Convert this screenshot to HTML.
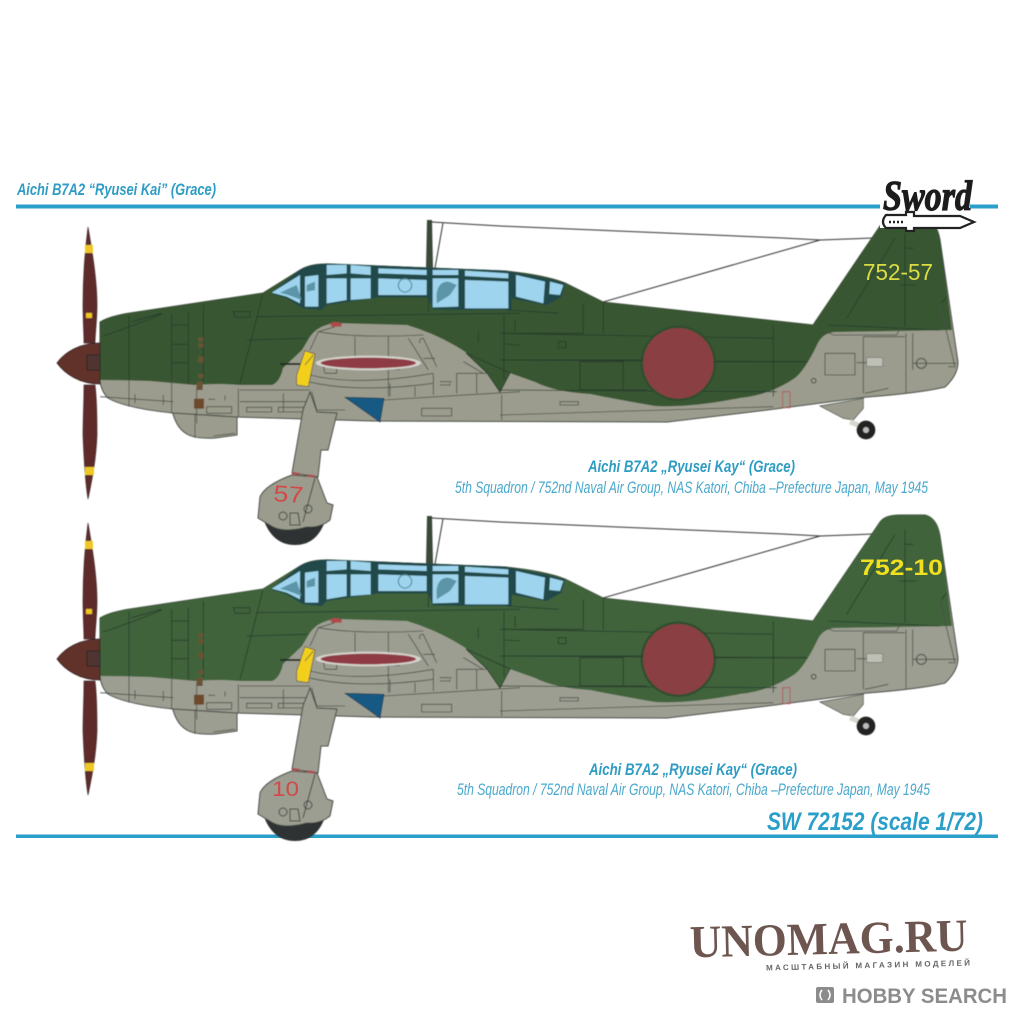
<!DOCTYPE html>
<html><head><meta charset="utf-8"><style>
html,body{margin:0;padding:0;background:#fff}
svg{display:block}
text{font-family:"Liberation Sans",sans-serif}
.t1{font:italic bold 17px "Liberation Sans Narrow","Liberation Sans",sans-serif;fill:#2f9cc4}
.t2{font:italic 17px "Liberation Sans Narrow","Liberation Sans",sans-serif;fill:#4aa8cc}
.l{fill:none;stroke:#263a2c;stroke-width:2.500}
.lg{fill:none;stroke:#4a4f48;stroke-width:2.500}
</style></head><body>
<svg width="1020" height="1020" viewBox="0 0 1020 1020" xmlns="http://www.w3.org/2000/svg">
<defs>
<filter id="b"><feGaussianBlur stdDeviation="0.4"/></filter>
<g id="plane">
 <!-- antenna -->
 <path d="M432 222L500 226L783 238L820 240L873 238M603 302L820 240M443 223L435 268" fill="none" stroke="#333" stroke-width="1"/>
 <path d="M427 220h5l1 48h-7z" fill="#3a4a3a"/>
 <!-- chin -->
 <path d="M172 410Q176 428 187 434Q195 439 215 438L237 435V415Z" fill="var(--y)" stroke="#3d443d" stroke-width="1"/>
 <!-- body -->
 <path d="M100 322Q110 316 130 313L263 293L300 270Q310 264 325 264L505 271Q545 275 565 283L603 302L813 325L880 226Q885 219 900 219L925 219Q937 222 940 240L958 362Q958 375 945 387Q920 393 867 397L767 410L667 422L373 421L237 417L173 413Q125 408 108 398Q100 390 100 378Z" fill="var(--y)" stroke="#3d443d" stroke-width="1"/>
 <!-- green -->
 <path d="M100 322Q110 316 130 313L263 293L300 270Q310 264 325 264L505 271Q545 275 565 283L603 302L813 325L880 226Q885 219 900 219L925 219Q937 222 940 240L952 330L835 332Q822 333 817 345Q805 370 795 378Q770 395 740 398Q690 408 655 406Q620 400 590 394Q555 392 535 382L507 372L467 353Q440 335 407 325L335 323Q315 326 308 340L302 350L283 368Q280 382 272 385L240 385Q220 383 195 385L150 381Q120 380 100 380Z" fill="var(--g)"/>
 <!-- wing root fillet -->
 <path d="M466 353L510 373L500 392L487 373Z" fill="var(--g)" stroke="#2c3f2c" stroke-width="1"/>
 <!-- canopy details in zoom coordinates -->
 <g transform="translate(40,210) scale(.33333)">
  <path d="M692 250L780 180Q800 165 860 160L1400 182L1415 190V300L1275 300L1178 298L1165 262L1015 262L860 285L845 300L790 295L740 265Z" fill="#21494a"/>
  <g fill="#9fd4ee">
   <path d="M695 248L780 195V280L740 260Z"/><path d="M795 200L835 195V290H795Z"/>
   <path d="M860 165H920V190L860 195Z"/><path d="M860 205H920V270L860 280Z"/>
   <path d="M932 165L992 170V195L932 190Z"/><path d="M932 205H992V265L932 270Z"/>
   <path d="M1015 175L1160 180V195L1015 190Z"/><path d="M1015 205L1160 210V255H1015Z"/>
   <path d="M1178 180H1255V195H1178Z"/><path d="M1178 205H1255V290L1178 292Z"/>
   <path d="M1275 182L1405 190V205L1275 198Z"/><path d="M1275 210L1405 215V295H1275Z"/>
  </g>
  <g fill="#5b95a8">
   <path d="M720 248L770 225L785 270L745 255Z"/><path d="M800 225L825 215L825 240L800 245Z"/><path d="M1190 250Q1195 215 1225 215L1250 225L1230 255L1190 280Z"/>
  </g>
  <circle cx="1095" cy="226" r="20" fill="none" stroke="#4a8090" stroke-width="3"/>
  <!-- cowl & fuselage panel lines -->
  <path class="l" d="M267 318V510M190 378Q300 340 365 312M275 335L365 310M395 310V515M445 305V520M490 285V515M395 345H445M395 403H445M395 458H445M580 305H630V322H585ZM668 255L600 520M650 320L1440 310M620 390L800 385M1165 305V262M1392 315V510M1395 402L1440 405M1315 365V398M1425 330V365"/>
  <path class="lg" d="M267 510V590M395 510V610M470 530V640M595 535V622M180 560L400 575M600 540H810M600 575H800M730 550V605M285 552V580M370 555V585M620 592H695V606H620ZM715 592H790V606H715ZM500 590H575V610H500ZM505 568H525M555 556V572M1145 595H1235V618H1145ZM1385 555V630M1030 570L1440 545M465 610V684M520 678L585 670M815 545L830 600H915"/>
  <path class="lg" d="M885 350L835 365L810 420M835 365Q950 385 1150 375M945 380V440M1045 380V560M1105 385L1165 480M1140 400Q1135 385 1150 385L1190 470M1150 445H1185M810 495Q950 530 1180 490M805 515Q950 550 1180 520M850 470H890V490H855ZM1010 478H1080M1050 520V560M1125 530V560M1180 490V555M1200 515H1235M1200 525H1230V520M1250 490V550M1310 490V550M1250 490H1340M1270 455L1330 490"/>
  <path d="M870 340Q885 332 905 340L905 350H875Z" fill="#b04a4a"/>
  <!-- wing hinomaru -->
  <ellipse cx="985" cy="459" rx="158" ry="22" fill="#d4d4cc"/>
  <ellipse cx="985" cy="459" rx="143" ry="16" fill="#8f3a45"/>
  <!-- gun / cowling marks -->
  <path d="M475 382h15v12h-15zM475 400h15v12h-15zM475 440h15v18h-15zM475 492h15v12h-15zM470 515h18v25h-18z" fill="#6a5236"/>
  <path d="M462 566h30v30h-30z" fill="#6d4a2a"/>
  <path d="M720 462H790" stroke="#222e22" stroke-width="6"/>
  <path d="M795 422L825 432L805 530L770 525L770 495Z" fill="#f2cf1e" stroke="#444" stroke-width="2"/>
  <path d="M795 465L820 435" stroke="#444" stroke-width="2"/>
  <path d="M915 562L1032 565L1020 636Z" fill="#155a84" stroke="#173040" stroke-width="2"/>
 </g>
 <!-- main gear -->
 <path d="M263 518Q272 545 295 545Q318 545 326 518Z" fill="#2e3132"/>
 <path d="M292 475L317 477Q322 490 327 503L333 505L330 520Q320 528 307 527Q285 533 273 527L258 518L260 497Q265 485 292 475Z" fill="var(--y)" stroke="#3d443d" stroke-width="1"/>
 <path d="M310 392L317 412L337 413L328 450L321 450L318 477L292 473L303 410Z" fill="var(--y)" stroke="#3d443d" stroke-width="1"/>
 <path d="M292 473L317 477" stroke="#a85050" stroke-width="2.5" stroke-dasharray="8 7"/>
 <path d="M315 478L303 522M290 513l8 0l2 12h-10z" fill="none" stroke="#3d443d" stroke-width="1"/>
 <circle cx="283" cy="516" r="4" fill="none" stroke="#3d443d"/><circle cx="308" cy="509" r="4" fill="none" stroke="#3d443d"/>
 <!-- rear details -->
 <g transform="translate(500,170) scale(.33333)">
  <path d="M30 305L140 325L195 340L185 380L140 405L30 385Z" fill="#21494a"/>
  <path d="M48 315L135 335L130 400L48 380Z" fill="#9fd4ee"/><path d="M150 335L190 345L180 375L148 372Z" fill="#9fd4ee"/>
  <path class="l" d="M20 420L175 430M0 490H250V400M310 395V490M0 490L820 505M0 570L920 575M820 465V680M0 660L830 665M240 575H370V660H240ZM175 515H198V533H175ZM1040 445L1185 205M1215 190V470M1215 235H1240M1200 345H1250M1325 400L1340 380M985 465L1320 480M45 450V480"/>
  <path class="lg" d="M975 550H1065V615H975ZM1070 578H1100M1090 500V670M1218 490V670M1238 490V600M1320 405L1365 590L1345 590M1238 580H1370M970 480L1000 495H1190L1200 475M1090 500H1215M0 735L820 710M180 695H235V705H180ZM1095 670L1165 655"/>
  <rect x="1100" y="563" width="48" height="26" fill="#bfc0b5" stroke="#777" stroke-width="2"/>
  <circle cx="1264" cy="580" r="15" fill="none" stroke="#444" stroke-width="3"/>
  <circle cx="941" cy="632" r="7" fill="none" stroke="#444" stroke-width="3"/>
  <rect x="848" y="665" width="22" height="48" fill="none" stroke="#b05a5a" stroke-width="3"/>
  <!-- hinomaru -->
  <circle cx="535" cy="580" r="113" fill="#2f4d2f"/>
  <circle cx="535" cy="580" r="106" fill="#8a3f42"/>
  <path d="M0 570H430M640 575H920M240 660H440" class="l"/>
  <!-- tail wheel -->
  <path d="M960 708L1090 685L1090 715L1060 750L1030 745Z" fill="var(--y)" stroke="#3d443d" stroke-width="2"/>
  <path d="M1050 755L1085 770" stroke="#d8d8d0" stroke-width="16"/>
  <circle cx="1098" cy="780" r="28" fill="#222"/><circle cx="1098" cy="780" r="9" fill="#bbb"/>
 </g>
 <!-- propeller -->
 <path d="M88 227C92 250 97 280 97 305C97 320 95 335 95 343H84C84 335 83 320 83 305C83 280 85 250 88 227Z" fill="#5e2a2c" stroke="#3a2a2a" stroke-width=".7"/>
 <path d="M84 385H95C97 400 97 420 97 435C96 460 92 480 88 499C85 480 84 460 83 435C83 420 84 400 84 385Z" fill="#5e2a2c" stroke="#3a2a2a" stroke-width=".7"/>
 <rect x="85" y="245" width="8" height="8" fill="#eec626"/><rect x="86" y="313" width="6" height="5" fill="#eec626"/><rect x="85" y="467" width="9" height="8" fill="#eec626"/>
 <path d="M100 343V384C80 384 65 374 57 363C65 352 80 343 100 343Z" fill="#60302c" stroke="#2e2222" stroke-width=".8"/>
 <rect x="87" y="355" width="13" height="15" fill="#4f3433" stroke="#222" stroke-width=".8"/>
</g>
</defs>

<rect width="1020" height="1020" fill="#fff"/>
<rect x="16" y="204.500" width="982" height="4" fill="#2a9fc9"/>
<rect x="16" y="834.500" width="982" height="3.500" fill="#2a9fc9"/>
<text x="17" y="195" class="t1" textLength="199" lengthAdjust="spacingAndGlyphs">Aichi B7A2 “Ryusei Kai” (Grace)</text>

<g filter="url(#b)">
 <use href="#plane" style="--g:#375733;--y:#9b9c8d"/>
 <g transform="translate(0,296)"><use href="#plane" style="--g:#3f643a;--y:#9d9e92"/></g>
</g>

<text x="863" y="280" font-size="23" fill="#dcdc44" textLength="70" lengthAdjust="spacingAndGlyphs">752-57</text>
<text x="273" y="502" font-size="23" fill="#d14a4a" textLength="30" lengthAdjust="spacingAndGlyphs" transform="rotate(4 288 502)">57</text>
<text x="860" y="575" font-size="22" font-weight="bold" fill="#f0e020" textLength="83" lengthAdjust="spacingAndGlyphs">752-10</text>
<text x="272" y="796" font-size="21" fill="#d14a4a" textLength="27" lengthAdjust="spacingAndGlyphs">10</text>

<text x="588" y="472" class="t1" textLength="207" lengthAdjust="spacingAndGlyphs">Aichi B7A2 „Ryusei Kay“ (Grace)</text>
<text x="455" y="493" class="t2" textLength="473" lengthAdjust="spacingAndGlyphs">5th Squadron / 752nd Naval Air Group, NAS Katori, Chiba –Prefecture Japan, May 1945</text>
<text x="589" y="775" class="t1" textLength="208" lengthAdjust="spacingAndGlyphs">Aichi B7A2 „Ryusei Kay“ (Grace)</text>
<text x="457" y="795" class="t2" textLength="473" lengthAdjust="spacingAndGlyphs">5th Squadron / 752nd Naval Air Group, NAS Katori, Chiba –Prefecture Japan, May 1945</text>
<text x="767" y="830" style="font:italic bold 25px 'Liberation Sans',sans-serif;fill:#2a9fc9" textLength="216" lengthAdjust="spacingAndGlyphs">SW 72152 (scale 1/72)</text>

<!-- Sword logo -->
<rect x="880" y="176" width="96" height="52" fill="#fff"/>
<rect x="970" y="204.500" width="28" height="4" fill="#2a9fc9"/>
<text x="883" y="210" style="font:bold italic 42px 'Liberation Serif',serif;fill:#1c1c1c;stroke:#1c1c1c;stroke-width:1.200" textLength="89" lengthAdjust="spacingAndGlyphs">Sword</text>
<path d="M886 215H906V212H914V216H960L974 222L960 228H914V231H906V228H886Q880 222 886 215Z" fill="#fff" stroke="#222" stroke-width="2.200"/>
<path d="M889 222H904" stroke="#222" stroke-width="2.500" stroke-dasharray="2 2"/>

<!-- watermark -->
<text x="690" y="954" transform="rotate(-1.400 830 953)" style="font:bold 46px 'Liberation Serif',serif;fill:#6e5650" textLength="278" lengthAdjust="spacingAndGlyphs">UNOMAG.RU</text>
<text x="766" y="968" transform="rotate(-1.400 868 966)" style="font:bold 8px 'Liberation Sans',sans-serif;fill:#666" textLength="204">МАСШТАБНЫЙ МАГАЗИН МОДЕЛЕЙ</text>
<rect x="816" y="987" width="18" height="16" rx="2" fill="#8c8c8c"/>
<path d="M822 990Q818 995 822 1000M828 990Q832 995 828 1000" stroke="#fff" stroke-width="1.500" fill="none"/>
<text x="842" y="1003" style="font:bold 21px 'Liberation Sans',sans-serif;fill:#8c8c8c" textLength="165" lengthAdjust="spacingAndGlyphs">HOBBY SEARCH</text>
</svg>
</body></html>
